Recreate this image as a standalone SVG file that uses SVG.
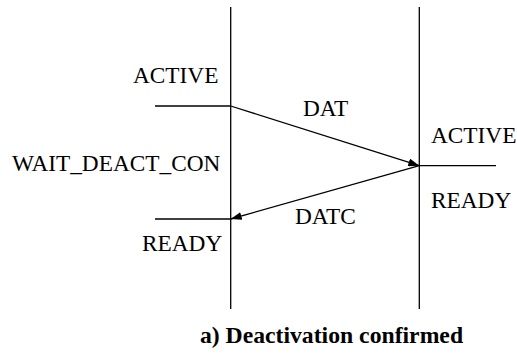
<svg xmlns="http://www.w3.org/2000/svg" width="517" height="354" viewBox="0 0 517 354">
<style>
.ln{stroke:#000;stroke-width:1.3;fill:none}
.t{font-family:"Liberation Serif","DejaVu Serif",serif;font-size:23.3px;fill:#000}
.cap{font-family:"Liberation Serif","DejaVu Serif",serif;font-size:23.7px;font-weight:bold;fill:#000}
</style>
<defs>
<marker id="ah" markerUnits="userSpaceOnUse" markerWidth="12" markerHeight="8" refX="11" refY="4" orient="auto">
<path d="M0,0 L11,4 L0,8 z" fill="#000"/>
</marker>
</defs>
<rect width="517" height="354" fill="#fff"/>
<g id="lifeline-left">
<line class="ln" x1="230.7" y1="7" x2="230.7" y2="309"/>
</g>
<g id="lifeline-right">
<line class="ln" x1="419.3" y1="7" x2="419.3" y2="309"/>
</g>
<g id="state-left-active">
<line class="ln" x1="155" y1="106" x2="230.7" y2="106"/>
<text class="t" x="133" y="83">ACTIVE</text>
</g>
<g id="state-left-wait">
<text class="t" x="12" y="171">WAIT_DEACT_CON</text>
</g>
<g id="state-left-ready">
<line class="ln" x1="155" y1="219" x2="230.7" y2="219"/>
<text class="t" x="142" y="251">READY</text>
</g>
<g id="state-right">
<line class="ln" x1="419.3" y1="165.7" x2="496" y2="165.7"/>
<text class="t" x="431" y="143">ACTIVE</text>
<text class="t" x="431" y="208">READY</text>
</g>
<g id="connectors">
<line class="ln" x1="230.7" y1="106" x2="419.3" y2="165.7" marker-end="url(#ah)"/>
<text class="t" x="303" y="116">DAT</text>
<line class="ln" x1="419.3" y1="165.7" x2="230.7" y2="219" marker-end="url(#ah)"/>
<text class="t" x="295" y="224">DATC</text>
</g>
<g id="caption">
<text class="cap" x="331.5" y="343" text-anchor="middle">a) Deactivation confirmed</text>
</g>
</svg>
